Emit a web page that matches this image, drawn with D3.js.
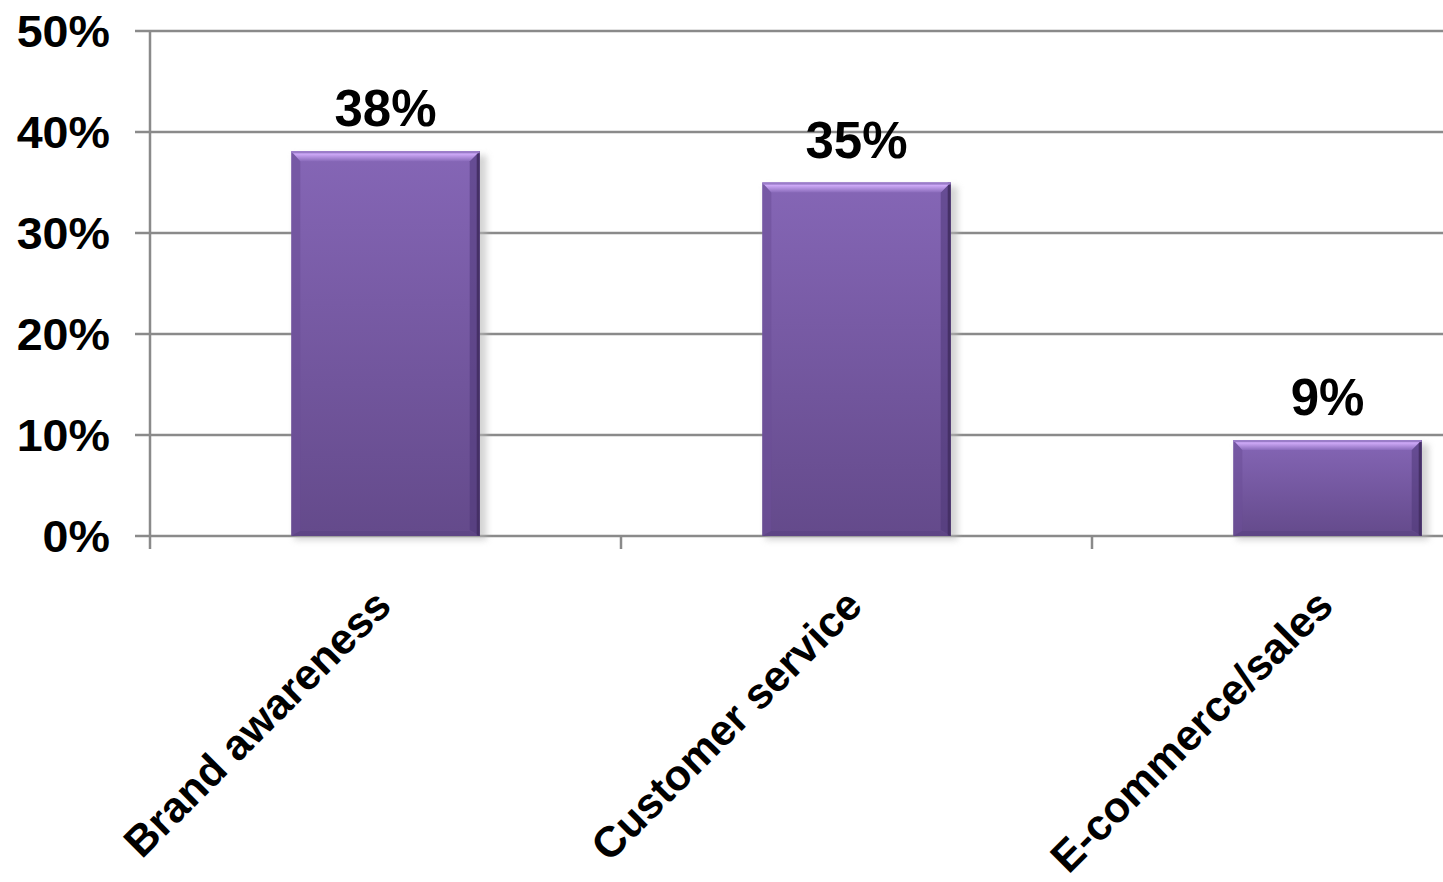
<!DOCTYPE html>
<html>
<head>
<meta charset="utf-8">
<script src="https://cdn.jsdelivr.net/npm/d3@7"></script>
<style>
html,body{margin:0;padding:0;background:#fff;}
svg{display:block;}
text{font-family:"Liberation Sans",Arial,sans-serif;font-weight:bold;fill:#000;}
</style>
</head>
<body>
<svg id="chart" width="1443" height="882"></svg>
<script>
const categories = ["Brand awareness", "Customer service", "E-commerce/sales"];
const values = [0.381, 0.35, 0.095];
const valueLabels = ["38%", "35%", "9%"];
const yTicks = [0, 0.1, 0.2, 0.3, 0.4, 0.5];

const W = 1443, H = 882;
const svg = d3.select("#chart");
const x = d3.scaleBand().domain(categories).range([150, 1563]).paddingInner(0).paddingOuter(0);
const y = d3.scaleLinear().domain([0, 0.5]).range([536, 31]);
const barW = x.bandwidth() * 0.4;

const defs = svg.append("defs");
const g1 = defs.append("linearGradient").attr("id","body").attr("x1",0).attr("y1",0).attr("x2",0).attr("y2",1);
g1.append("stop").attr("offset","0%").attr("stop-color","#8566b6");
g1.append("stop").attr("offset","100%").attr("stop-color","#644a8b");
const g2 = defs.append("linearGradient").attr("id","topb").attr("x1",0).attr("y1",0).attr("x2",0).attr("y2",1);
g2.append("stop").attr("offset","0%").attr("stop-color","#a888d6");
g2.append("stop").attr("offset","30%").attr("stop-color","#cca8f6");
g2.append("stop").attr("offset","100%").attr("stop-color","#8a6bbb");
const blur = defs.append("filter").attr("id","blur").attr("x","-20%").attr("y","-20%").attr("width","140%").attr("height","140%");
blur.append("feGaussianBlur").attr("stdDeviation",3);

// gridlines
svg.append("g").selectAll("line").data(yTicks).join("line")
  .attr("x1", 135).attr("x2", W)
  .attr("y1", d => y(d)).attr("y2", d => y(d))
  .attr("stroke", "#8a8a8a").attr("stroke-width", 2.5);

// y axis line
svg.append("line").attr("x1",150).attr("x2",150).attr("y1",y(0.5)).attr("y2",549)
  .attr("stroke","#8a8a8a").attr("stroke-width",2.5);
// category ticks
svg.append("g").selectAll("line").data(categories.slice(1)).join("line")
  .attr("x1", d => x(d)).attr("x2", d => x(d))
  .attr("y1", y(0)).attr("y2", 549)
  .attr("stroke","#8a8a8a").attr("stroke-width",2.5);

// y tick labels
svg.append("g").selectAll("text").data(yTicks).join("text")
  .attr("x", 110).attr("y", d => y(d))
  .attr("dy","0.36em")
  .attr("text-anchor","end")
  .attr("font-size", 44)
  .attr("transform", d => `translate(110,0) scale(1.06,1) translate(-110,0)`)
  .text(d => Math.round(d*100) + "%");

// bars
const bars = svg.append("g").selectAll("g").data(categories).join("g");
const bx = (d) => x(d) + (x.bandwidth() - barW) / 2;
const by = (d,i) => y(values[i]);
const bh = (d,i) => y(0) - y(values[i]);
// shadow
bars.append("rect")
  .attr("x", d => bx(d) + 3).attr("y", (d,i) => by(d,i) + 4)
  .attr("width", barW + 4).attr("height", (d,i) => bh(d,i))
  .attr("fill", "#b8b8b8").attr("opacity", 0.6).attr("filter","url(#blur)");
// body
bars.append("rect")
  .attr("x", bx).attr("y", by)
  .attr("width", barW).attr("height", bh)
  .attr("fill", "url(#body)");
// left edge
bars.append("polygon")
  .attr("points", (d,i) => {
    const x0 = bx(d), y0 = by(d,i), y1 = y(0);
    return [[x0,y0],[x0+9,y0+9],[x0+9,y1-5],[x0,y1]].map(p=>p.join(",")).join(" ");
  })
  .attr("fill", "#6c4f98").attr("opacity", 0.55);
// right edge
bars.append("polygon")
  .attr("points", (d,i) => {
    const x1 = bx(d) + barW, y0 = by(d,i), y1 = y(0);
    return [[x1,y0],[x1-10,y0+10],[x1-10,y1-6],[x1,y1]].map(p=>p.join(",")).join(" ");
  })
  .attr("fill", "#4f3878").attr("opacity", 0.55);
bars.append("rect")
  .attr("x", d => bx(d) + barW - 3).attr("y", by)
  .attr("width", 3).attr("height", bh)
  .attr("fill", "#453066");
// bottom edge
bars.append("polygon")
  .attr("points", (d,i) => {
    const x0 = bx(d), x1 = x0 + barW, y1 = y(0);
    return [[x0,y1],[x0+9,y1-5],[x1-10,y1-5],[x1,y1]].map(p=>p.join(",")).join(" ");
  })
  .attr("fill", "#5a4282").attr("opacity", 0.6);
// top bevel
bars.append("polygon")
  .attr("points", (d,i) => {
    const x0 = bx(d), x1 = x0 + barW, y0 = by(d,i);
    return [[x0,y0],[x1,y0],[x1-10,y0+10],[x0+9,y0+10]].map(p=>p.join(",")).join(" ");
  })
  .attr("fill", "url(#topb)");
bars.append("rect")
  .attr("x", bx).attr("y", by)
  .attr("width", barW).attr("height", 2)
  .attr("fill", "#9a7cc8");

// value labels
svg.append("g").selectAll("text").data(categories).join("text")
  .attr("x", d => x(d) + x.bandwidth()/2)
  .attr("y", (d,i) => y(values[i]) - 25)
  .attr("text-anchor","middle")
  .attr("font-size", 51)
  .text((d,i) => valueLabels[i]);

// category labels
svg.append("g").selectAll("text").data(categories).join("text")
  .attr("transform", d => `translate(${x(d) + x.bandwidth()/2 + 8},${608}) rotate(-45)`)
  .attr("text-anchor","end")
  .attr("font-size", 43)
  .text(d => d);
</script>
</body>
</html>
